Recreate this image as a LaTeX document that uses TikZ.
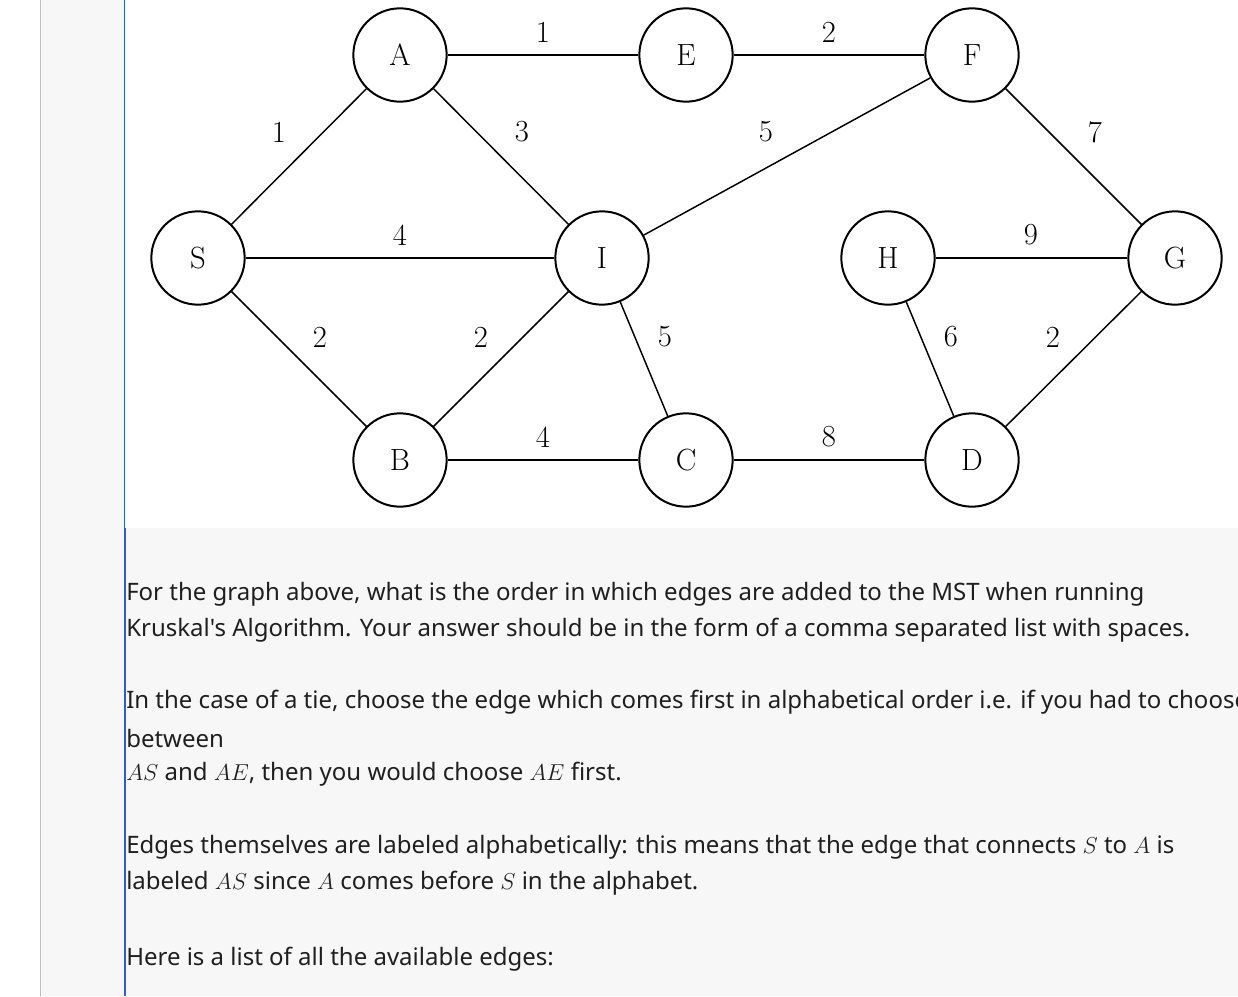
\documentclass[tikz,border=0pt]{standalone}
\usepackage{fontspec}
\newfontfamily\notosans{Noto Sans}
\definecolor{bar}{RGB}{45,95,210}
\begin{document}
\begin{tikzpicture}[x=0.75pt,y=-0.75pt,
  vtx/.style={circle,draw,line width=1.5pt,minimum size=70pt,inner sep=0pt,font=\fontsize{23}{25}\selectfont},
  edge/.style={line width=1.1pt},
  wl/.style={font=\fontsize{23}{25}\selectfont,inner sep=0pt},
  txt/.style={anchor=west,inner sep=0pt,font=\notosans\fontsize{18}{21}\selectfont,text=black!88}]
\useasboundingbox (0,0) rectangle (1238,996);
\clip (0,0) rectangle (1238,996);
\fill[white] (0,0) rectangle (1238,996);
\fill[black!3] (40,0) rectangle (1238,996);
\fill[white] (125,0) rectangle (1238,528);
\draw[black!25,line width=0.75pt] (40,0) -- (40,996);
\draw[bar,line width=0.75pt] (124.5,0) -- (124.5,528);
\draw[bar,line width=1.6pt] (125,528) -- (125,996);
\node[vtx] (S) at (198,258) {S};
\node[vtx] (A) at (400,55) {A};
\node[vtx] (E) at (686,55) {E};
\node[vtx] (F) at (972,55) {F};
\node[vtx] (I) at (602,258) {I};
\node[vtx] (H) at (888,258) {H};
\node[vtx] (G) at (1175,258) {G};
\node[vtx] (B) at (400,460) {B};
\node[vtx] (C) at (686,460) {C};
\node[vtx] (D) at (972,460) {D};
\draw[edge] (A)--(E); \draw[edge] (E)--(F); \draw[edge] (S)--(A); \draw[edge] (A)--(I);
\draw[edge] (I)--(F); \draw[edge] (F)--(G); \draw[edge] (S)--(I); \draw[edge] (H)--(G);
\draw[edge] (S)--(B); \draw[edge] (B)--(I); \draw[edge] (I)--(C); \draw[edge] (H)--(D);
\draw[edge] (D)--(G); \draw[edge] (B)--(C); \draw[edge] (C)--(D);
\node[wl] (l1) at (543,32) {1}; \node[wl] (l2) at (829,32) {2};
\node[wl] (l3) at (279,132) {1}; \node[wl] (l4) at (522,132) {3};
\node[wl] (l5) at (766,132) {5}; \node[wl] (l6) at (1095,132) {7};
\node[wl] (l7) at (400,235) {4}; \node[wl] (l8) at (1031,235) {9};
\node[wl] (l9) at (320,337) {2}; \node[wl] (l10) at (481,337) {2};
\node[wl] (l11) at (665,337) {5}; \node[wl] (l12) at (951,337) {6};
\node[wl] (l13) at (1053,337) {2}; \node[wl] (l14) at (543,437) {4};
\node[wl] (l15) at (829,437) {8};
\node[txt] (t1) at (126,594) {For the graph above, what is the order in which edges are added to the MST when running};
\node[txt] (t2) at (126,630) {Kruskal's Algorithm. Your answer should be in the form of a comma separated list with spaces.};
\node[txt] (t3) at (126,702) {In the case of a tie, choose the edge which comes first in alphabetical order i.e. if you had to choose};
\node[txt] (t4) at (126,738) {between};
\node[txt] (t5) at (126,774) {$AS$ and $AE$, then you would choose $AE$ first.};
\node[txt] (t6) at (126,847) {Edges themselves are labeled alphabetically: this means that the edge that connects $S$ to $A$ is};
\node[txt] (t7) at (126,883) {labeled $AS$ since $A$ comes before $S$ in the alphabet.};
\node[txt] (t8) at (126,959) {Here is a list of all the available edges:};
\end{tikzpicture}
\end{document}
